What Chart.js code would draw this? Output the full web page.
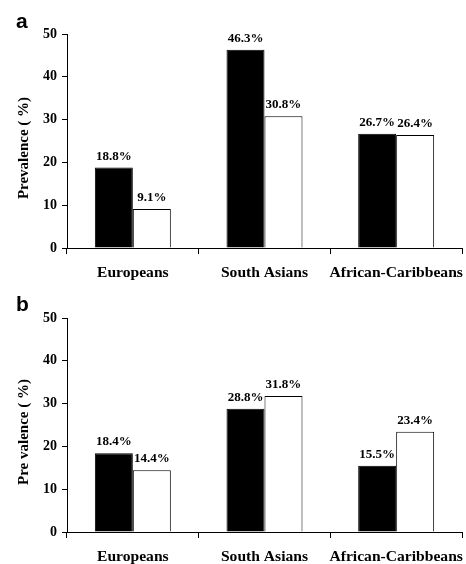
<!DOCTYPE html>
<html><head><meta charset="utf-8">
<script src="https://cdn.jsdelivr.net/npm/chart.js@4"></script>
<style>
html,body{margin:0;padding:0;background:#fff;}
canvas{display:block;}
</style></head><body>
<canvas id="ca" width="466" height="282"></canvas>
<canvas id="cb" width="466" height="282"></canvas>
<script>
const categories = ['Europeans', 'South Asians', 'African-Caribbeans'];
const panelA_black = [18.8, 46.3, 26.7];
const panelA_white = [9.1, 30.8, 26.4];
const panelB_black = [18.4, 28.8, 15.5];
const panelB_white = [14.4, 31.8, 23.4];
const yMin = 0, yMax = 50, yStep = 10;
const titleA = 'Prevalence ( %)';
const titleB = 'Pre valence ( %)';

const SERIF = '"Liberation Serif", "Times New Roman", serif';

const labelPlugin = {
  id: 'valueLabels',
  afterDatasetsDraw(chart, args, opts) {
    const ctx = chart.ctx;
    ctx.save();
    ctx.fillStyle = '#000';
    ctx.font = 'bold 13px ' + SERIF;
    ctx.textAlign = 'center';
    ctx.textBaseline = 'alphabetic';
    chart.data.datasets.forEach((ds, di) => {
      const meta = chart.getDatasetMeta(di);
      meta.data.forEach((el, i) => {
        ctx.fillText(ds.data[i].toFixed(1) + '%', el.x, el.y - 8);
      });
    });
    // panel letter
    ctx.font = 'bold 21px "Liberation Sans", Arial, sans-serif';
    ctx.textAlign = 'left';
    ctx.fillText(opts.letter, 16, opts.letterY);
    // y-axis title
    const area = chart.chartArea;
    ctx.font = 'bold 15px ' + SERIF;
    ctx.textAlign = 'center';
    ctx.textBaseline = 'middle';
    ctx.translate(24, (area.top + area.bottom) / 2 + 7);
    ctx.rotate(-Math.PI / 2);
    ctx.fillText(opts.yTitle, 0, 0);
    ctx.restore();
  }
};

function makeChart(id, letter, letterY, blackData, whiteData, yTitle, top, bottom) {
  return new Chart(document.getElementById(id), {
    type: 'bar',
    data: {
      labels: categories,
      datasets: [
        { label: 'Group 1', data: blackData, backgroundColor: '#000', borderColor: '#000', borderWidth: 1,
          categoryPercentage: 0.577, barPercentage: 1.0 },
        { label: 'Group 2', data: whiteData, backgroundColor: '#fff', borderColor: '#000', borderWidth: 1,
          categoryPercentage: 0.577, barPercentage: 1.0 }
      ]
    },
    options: {
      responsive: false,
      animation: false,
      layout: { padding: { top: top, right: 4, left: 0, bottom: 0 } },
      plugins: {
        legend: { display: false },
        tooltip: { enabled: false },
        title: { display: false },
        valueLabels: { letter: letter, letterY: letterY, yTitle: yTitle }
      },
      scales: {
        x: {
          grid: { offset: true, drawOnChartArea: false, drawTicks: true, tickLength: 6, color: '#000', lineWidth: 1 },
          border: { color: '#000', width: 1 },
          ticks: { color: '#000', font: { family: SERIF, size: 15.6, weight: 'bold' }, padding: 10, maxRotation: 0, autoSkip: false },
          afterFit(scale) { scale.height = 282 - bottom; scale.paddingLeft = 0; scale.paddingRight = 0; }
        },
        y: {
          min: yMin, max: yMax,
          grid: { drawOnChartArea: false, drawTicks: true, tickLength: 5, color: '#000', lineWidth: 1 },
          border: { color: '#000', width: 1 },
          ticks: { stepSize: yStep, color: '#000', font: { family: SERIF, size: 14, weight: 'bold' }, padding: 5 },
          afterFit(scale) { scale.width = 67; }
        }
      }
    },
    plugins: [labelPlugin]
  });
}

makeChart('ca', 'a', 28, panelA_black, panelA_white, titleA, 34, 248);
makeChart('cb', 'b', 29, panelB_black, panelB_white, titleB, 36, 250);
</script>
</body></html>
